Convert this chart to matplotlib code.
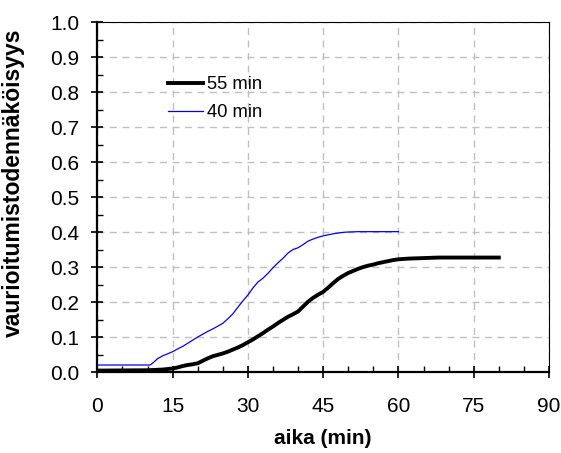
import numpy as np
import matplotlib.pyplot as plt
from matplotlib.ticker import MultipleLocator

plt.rcParams['font.family'] = ['Liberation Sans', 'DejaVu Sans']

# 40 min series
t_40 = [0, 10.5, 11, 12, 13, 14, 15, 16, 17, 18, 19, 20, 21, 22, 23, 24, 25, 26, 27, 28, 29,
        30, 31, 32, 33, 34, 35, 36, 37, 38, 39, 40, 41, 42, 43, 44, 45, 46, 47, 48, 49, 50, 52, 60]
p_40 = [0.020, 0.020, 0.025, 0.038, 0.046, 0.052, 0.058, 0.066, 0.073, 0.082, 0.091, 0.100,
        0.108, 0.116, 0.123, 0.131, 0.139, 0.152, 0.166, 0.185, 0.203, 0.220, 0.240, 0.257,
        0.268, 0.282, 0.298, 0.312, 0.325, 0.340, 0.350, 0.355, 0.364, 0.374, 0.380, 0.385,
        0.389, 0.392, 0.395, 0.397, 0.399, 0.400, 0.401, 0.401]

# 55 min series
t_55 = [0, 10, 13, 15, 16, 17, 18, 19, 20, 21, 22, 23, 24, 25, 26, 27, 28, 29, 30, 31, 32, 33,
        34, 35, 36, 37, 38, 39, 40, 41, 42, 43, 44, 45, 46, 47, 48, 49, 50, 51, 52, 53, 54, 55,
        56, 57, 58, 59, 60, 62, 64, 66, 68, 70, 80]
p_55 = [0.004, 0.005, 0.007, 0.010, 0.013, 0.017, 0.020, 0.022, 0.025, 0.032, 0.039, 0.045,
        0.049, 0.053, 0.058, 0.064, 0.070, 0.077, 0.085, 0.093, 0.102, 0.111, 0.121, 0.130,
        0.140, 0.149, 0.158, 0.165, 0.173, 0.187, 0.201, 0.212, 0.221, 0.229, 0.241, 0.254,
        0.266, 0.275, 0.283, 0.289, 0.295, 0.300, 0.304, 0.307, 0.311, 0.314, 0.317, 0.320,
        0.322, 0.324, 0.325, 0.326, 0.327, 0.327, 0.327]

fig = plt.figure(figsize=(5.61, 4.53), dpi=100)
ax = fig.add_axes([0.1735, 0.1788, 0.8051, 0.7726])

ax.plot(t_55, p_55, color='black', lw=2.8, label='55 min')
ax.plot(t_40, p_40, color='#0000ff', lw=0.9, label='40 min')

ax.set_xlim(0, 90)
ax.set_ylim(0, 1)
ax.xaxis.set_major_locator(MultipleLocator(15))
ax.xaxis.set_minor_locator(MultipleLocator(5))
ax.yaxis.set_major_locator(MultipleLocator(0.1))
ax.yaxis.set_minor_locator(MultipleLocator(0.05))
ax.yaxis.set_major_formatter(plt.FuncFormatter(lambda v, p: f'{v:.1f}'))

ax.grid(True, which='major', color='#c0c0c0', linestyle=(0, (5, 4)), lw=1)
ax.set_axisbelow(True)

ax.tick_params(which='major', direction='inout', length=8, width=1.2, labelsize=15)
ax.tick_params(axis='x', which='major', pad=14)
ax.tick_params(axis='y', which='major', pad=9)
ax.tick_params(which='minor', direction='in', length=4, width=1)
for s in ['left', 'bottom']:
    ax.spines[s].set_linewidth(1.6)
for s in ['top', 'right']:
    ax.spines[s].set_linewidth(0.8)

ax.set_xlabel('aika (min)', fontsize=15, fontweight='bold')
ax.set_ylabel('vaurioitumistodennäköisyys', fontsize=16.5, fontweight='bold')
ax.xaxis.set_label_coords(0.5, -0.163)
ax.yaxis.set_label_coords(-0.16, 0.54)

ax.legend(loc='upper left', bbox_to_anchor=(0.1565, 0.845), frameon=False, fontsize=13.2,
          handlelength=1.9, borderpad=0, borderaxespad=0, labelspacing=0.6, handletextpad=0.25)

fig.savefig('out.png', dpi=100)
